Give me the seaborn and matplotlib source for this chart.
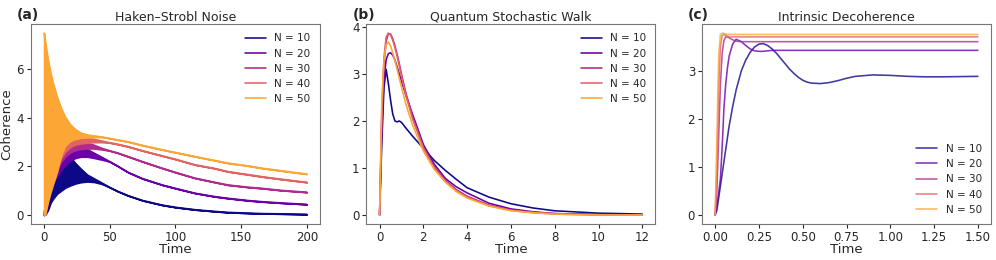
import numpy as np
import pandas as pd
import seaborn as sns
import matplotlib
matplotlib.use('Agg')
import matplotlib.pyplot as plt

sns.set_style('ticks')
plt.rcParams['font.family'] = ['DejaVu Sans']

labels = ['N = 10', 'N = 20', 'N = 30', 'N = 40', 'N = 50']
colors = ['#0d0887', '#6a00a8', '#b12a90', '#e16462', '#fca636']

# (a) Haken-Strobl: fast oscillation, kept as lower / upper envelope
t_a = [0, 1, 3, 5, 7, 10, 13, 16, 20, 22, 24, 28, 33, 38, 44, 50, 56, 64, 75, 90,
       100, 115, 130, 140, 155, 166, 180, 200]
hi_10 = [0, 0.05, 0.55, 0.95, 1.3, 1.6, 1.85, 2.02, 2.2, 2.26, 2.12, 1.9, 1.65, 1.5, 1.32, 1.14,
         0.98, 0.8, 0.6, 0.41, 0.32, 0.22, 0.15, 0.11, 0.08, 0.06, 0.05, 0.03]
lo_10 = [0, 0.02, 0.2, 0.5, 0.68, 0.88, 1.0, 1.12, 1.22, 1.26, 1.3, 1.35, 1.38, 1.36, 1.28, 1.14,
         0.98, 0.8, 0.6, 0.41, 0.32, 0.22, 0.15, 0.11, 0.08, 0.06, 0.05, 0.03]
hi_20 = [0, 0.3, 0.9, 1.4, 1.8, 2.1, 2.3, 2.48, 2.62, 2.68, 2.72, 2.75, 2.7, 2.55, 2.38, 2.2,
         2.02, 1.76, 1.5, 1.24, 1.1, 0.9, 0.76, 0.69, 0.6, 0.55, 0.5, 0.44]
lo_20 = [0, 0.1, 0.6, 1.0, 1.35, 1.6, 1.85, 2.05, 2.25, 2.3, 2.35, 2.4, 2.4, 2.35, 2.28, 2.2,
         2.02, 1.76, 1.5, 1.24, 1.1, 0.9, 0.76, 0.69, 0.6, 0.55, 0.5, 0.44]
hi_30 = [0, 0.35, 1.0, 1.5, 1.9, 2.25, 2.55, 2.7, 2.84, 2.88, 2.92, 2.96, 2.95, 2.88, 2.75, 2.65,
         2.56, 2.41, 2.2, 1.93, 1.76, 1.52, 1.35, 1.24, 1.15, 1.1, 1.02, 0.94]
lo_30 = [0, 0.15, 0.7, 1.1, 1.5, 1.9, 2.2, 2.4, 2.58, 2.63, 2.67, 2.72, 2.74, 2.74, 2.7, 2.65,
         2.56, 2.41, 2.2, 1.93, 1.76, 1.52, 1.35, 1.24, 1.15, 1.1, 1.02, 0.94]
hi_40 = [0, 0.4, 1.1, 1.6, 2.0, 2.4, 2.7, 2.88, 3.02, 3.08, 3.12, 3.15, 3.15, 3.12, 3.05, 2.98,
         2.92, 2.82, 2.65, 2.44, 2.3, 2.07, 1.92, 1.79, 1.67, 1.58, 1.48, 1.35]
lo_40 = [0, 0.2, 0.75, 1.2, 1.6, 2.0, 2.35, 2.6, 2.8, 2.86, 2.9, 2.95, 2.98, 3.0, 3.0, 2.98,
         2.92, 2.82, 2.65, 2.44, 2.3, 2.07, 1.92, 1.79, 1.67, 1.58, 1.48, 1.35]
hi_50 = [7.5, 7.1, 6.4, 5.85, 5.4, 4.85, 4.4, 4.05, 3.72, 3.62, 3.52, 3.38, 3.3, 3.26, 3.22, 3.16,
         3.1, 3.02, 2.87, 2.69, 2.58, 2.41, 2.25, 2.14, 2.03, 1.93, 1.83, 1.69]
lo_50 = [0, 0.05, 0.55, 0.95, 1.3, 1.8, 2.45, 2.85, 3.05, 3.1, 3.13, 3.18, 3.2, 3.21, 3.21, 3.16,
         3.1, 3.02, 2.87, 2.69, 2.58, 2.41, 2.25, 2.14, 2.03, 1.93, 1.83, 1.69]
hi_a = [hi_10, hi_20, hi_30, hi_40, hi_50]
lo_a = [lo_10, lo_20, lo_30, lo_40, lo_50]

# (b) Quantum stochastic walk
t_b = [0, 0.1, 0.2, 0.3, 0.4, 0.5, 0.6, 0.7, 0.8, 0.9, 1.0, 1.2, 1.5, 2.0, 2.5, 3.0, 3.5, 4.0,
       5.0, 6.0, 7.0, 8.0, 10.0, 12.0]
qsw_10 = [0, 1.5, 2.7, 3.1, 2.8, 2.45, 2.15, 2.0, 1.98, 2.0, 1.97, 1.85, 1.68, 1.42, 1.16, 0.95,
          0.76, 0.58, 0.38, 0.24, 0.15, 0.09, 0.04, 0.02]
qsw_20 = [0, 1.8, 2.9, 3.3, 3.43, 3.45, 3.4, 3.3, 3.15, 3.0, 2.85, 2.55, 2.15, 1.5, 1.08, 0.78,
          0.6, 0.47, 0.25, 0.13, 0.07, 0.03, 0.01, 0.0]
qsw_30 = [0, 2.0, 3.2, 3.7, 3.85, 3.85, 3.75, 3.6, 3.42, 3.22, 3.0, 2.6, 2.1, 1.45, 1.03, 0.74,
          0.54, 0.4, 0.21, 0.11, 0.06, 0.03, 0.01, 0.0]
qsw_40 = [0, 2.2, 3.35, 3.78, 3.87, 3.83, 3.72, 3.56, 3.38, 3.17, 2.95, 2.55, 2.05, 1.42, 1.0,
          0.72, 0.52, 0.38, 0.2, 0.1, 0.05, 0.02, 0.0, 0.0]
qsw_50 = [0, 2.4, 3.3, 3.62, 3.68, 3.6, 3.45, 3.28, 3.1, 2.91, 2.72, 2.36, 1.92, 1.36, 0.97, 0.7,
          0.5, 0.36, 0.19, 0.09, 0.05, 0.02, 0.0, 0.0]
qsw = [qsw_10, qsw_20, qsw_30, qsw_40, qsw_50]

# (c) Intrinsic decoherence
t_c = [0, 0.01, 0.02, 0.03, 0.04, 0.05, 0.06, 0.07, 0.08, 0.1, 0.12, 0.15, 0.175, 0.2, 0.225,
       0.25, 0.275, 0.3, 0.325, 0.35, 0.375, 0.4, 0.425, 0.45, 0.475, 0.5, 0.525, 0.55, 0.6,
       0.65, 0.7, 0.75, 0.8, 0.9, 1.0, 1.1, 1.2, 1.3, 1.5]
idc_10 = [0, 0.1, 0.35, 0.6, 0.85, 1.1, 1.35, 1.6, 1.85, 2.25, 2.6, 3.0, 3.22, 3.38, 3.49,
          3.55, 3.56, 3.52, 3.45, 3.36, 3.25, 3.14, 3.03, 2.94, 2.86, 2.8, 2.76, 2.74, 2.73,
          2.75, 2.79, 2.84, 2.88, 2.91, 2.9, 2.88, 2.87, 2.87, 2.88]
idc_20 = [0, 0.2, 0.45, 0.75, 1.4, 2.2, 2.7, 3.05, 3.3, 3.55, 3.65, 3.6, 3.52, 3.45, 3.41,
          3.4, 3.4, 3.41, 3.42, 3.42, 3.42, 3.42, 3.42, 3.42, 3.42, 3.42, 3.42, 3.42, 3.42,
          3.42, 3.42, 3.42, 3.42, 3.42, 3.42, 3.42, 3.42, 3.42, 3.42]
idc_30 = [0, 0.5, 1.6, 2.7, 3.35, 3.62, 3.7, 3.7, 3.68, 3.64, 3.61, 3.6, 3.6, 3.6, 3.6,
          3.6, 3.6, 3.6, 3.6, 3.6, 3.6, 3.6, 3.6, 3.6, 3.6, 3.6, 3.6, 3.6, 3.6,
          3.6, 3.6, 3.6, 3.6, 3.6, 3.6, 3.6, 3.6, 3.6, 3.6]
idc_40 = [0, 1.0, 2.6, 3.5, 3.73, 3.75, 3.73, 3.71, 3.7, 3.7, 3.7, 3.7, 3.7, 3.7, 3.7,
          3.7, 3.7, 3.7, 3.7, 3.7, 3.7, 3.7, 3.7, 3.7, 3.7, 3.7, 3.7, 3.7, 3.7,
          3.7, 3.7, 3.7, 3.7, 3.7, 3.7, 3.7, 3.7, 3.7, 3.7]
idc_50 = [0, 1.6, 3.3, 3.75, 3.78, 3.77, 3.76, 3.75, 3.75, 3.75, 3.75, 3.75, 3.75, 3.75, 3.75,
          3.75, 3.75, 3.75, 3.75, 3.75, 3.75, 3.75, 3.75, 3.75, 3.75, 3.75, 3.75, 3.75, 3.75,
          3.75, 3.75, 3.75, 3.75, 3.75, 3.75, 3.75, 3.75, 3.75, 3.75]
idc = [idc_10, idc_20, idc_30, idc_40, idc_50]


def longform(t, series):
    rows = []
    for lab, ys in zip(labels, series):
        rows.append(pd.DataFrame({'Time': t, 'value': ys, 'N': lab}))
    return pd.concat(rows, ignore_index=True)


fig, axes = plt.subplots(1, 3, figsize=(9.96, 2.6), dpi=100)
fig.subplots_adjust(left=0.031, right=0.995, bottom=0.138, top=0.908, wspace=0.161)
pal = dict(zip(labels, colors))
lw = 1.15

# panel a
ax = axes[0]
sns.lineplot(data=longform(t_a, hi_a), x='Time', y='value', hue='N', hue_order=labels,
             palette=pal, lw=lw, ax=ax, zorder=2)
for i in range(5):
    ax.fill_between(t_a, lo_a[i], hi_a[i], color=colors[i], edgecolor=colors[i],
                    lw=lw, zorder=3 + i)
ax.set_title('Haken–Strobl Noise', fontsize=9, pad=2)
ax.set_ylabel('Coherence', fontsize=9.5, labelpad=2)
ax.set_yticks([0, 2, 4, 6])
ax.set_xticks([0, 50, 100, 150, 200])
sns.move_legend(ax, 'upper right', title=None, frameon=False, fontsize=7.5)

# panel b
ax = axes[1]
sns.lineplot(data=longform(t_b, qsw), x='Time', y='value', hue='N', hue_order=labels,
             palette=pal, lw=lw, ax=ax)
ax.set_title('Quantum Stochastic Walk', fontsize=9, pad=2)
ax.set_ylabel('')
ax.set_yticks([0, 1, 2, 3, 4])
sns.move_legend(ax, 'upper right', title=None, frameon=False, fontsize=7.5)

# panel c
ax = axes[2]
sns.lineplot(data=longform(t_c, idc), x='Time', y='value', hue='N', hue_order=labels,
             palette=pal, lw=lw, alpha=0.8, ax=ax)
ax.set_title('Intrinsic Decoherence', fontsize=9, pad=2)
ax.set_ylabel('')
ax.set_yticks([0, 1, 2, 3])
ax.set_xticks([0, 0.25, 0.5, 0.75, 1.0, 1.25, 1.5])
sns.move_legend(ax, 'lower right', title=None, frameon=False, fontsize=7.5)

for ax, tag in zip(axes, ['(a)', '(b)', '(c)']):
    ax.set_xlabel('Time', fontsize=9.5, labelpad=-1)
    ax.tick_params(labelsize=8.5, length=3, pad=2)
    for sp in ax.spines.values():
        sp.set_color('#777777')
    ax.text(-0.048, 1.08, tag, transform=ax.transAxes, fontsize=10, fontweight='bold',
            ha='left', va='top')

fig.savefig('out.png', dpi=100)
